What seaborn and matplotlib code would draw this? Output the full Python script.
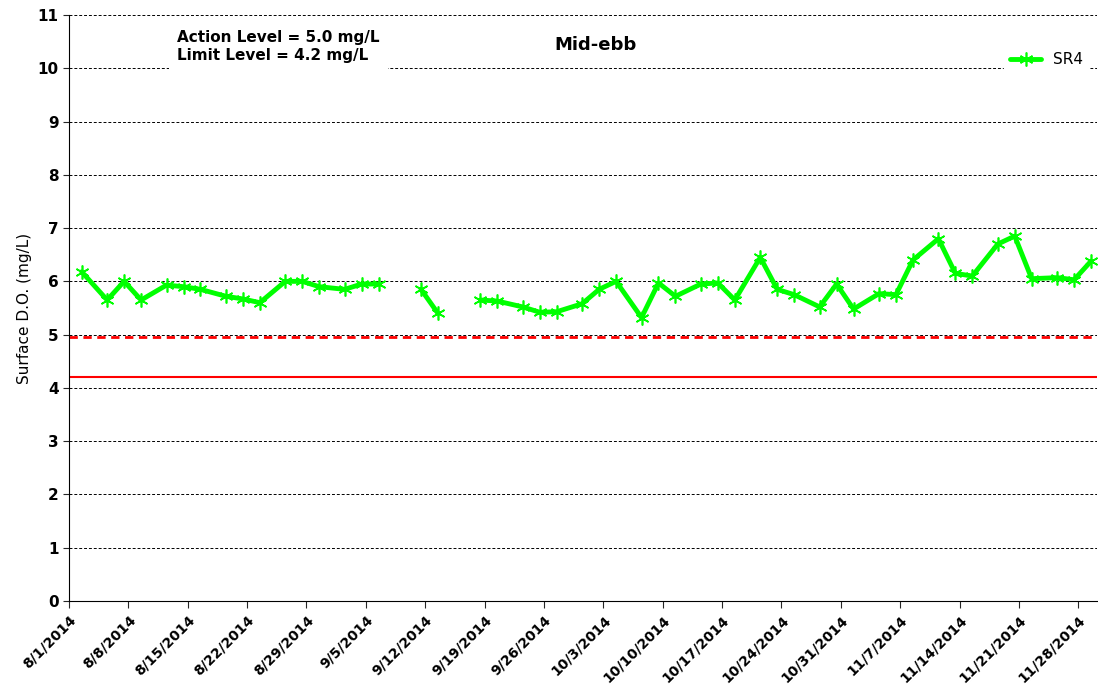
import matplotlib
matplotlib.use("Agg")
import matplotlib.pyplot as plt
import seaborn as sns
import pandas as pd
import numpy as np

dates = ["8/2","8/5","8/7","8/9","8/12","8/14","8/16","8/19","8/21","8/23","8/26","8/28","8/30",
         "9/2","9/4","9/6","9/9","9/11","9/13","9/16","9/18","9/20","9/23","9/25","9/27","9/30",
         "10/2","10/4","10/7","10/9","10/11","10/14","10/16","10/18","10/21","10/23","10/25",
         "10/28","10/30","11/1","11/4","11/6","11/8","11/11","11/13","11/15","11/18","11/20",
         "11/22","11/25","11/27","11/29"]
sr4 = [6.18,5.65,6.0,5.65,5.93,5.9,5.85,5.72,5.67,5.6,6.0,6.0,5.9,
       5.85,5.95,5.95,np.nan,5.85,5.4,np.nan,5.65,5.63,5.52,5.42,5.43,5.58,
       5.85,6.0,5.32,5.97,5.72,5.95,5.97,5.65,6.45,5.85,5.75,
       5.52,5.95,5.48,5.77,5.75,6.4,6.8,6.15,6.1,6.7,6.85,
       6.05,6.07,6.03,6.38]
action_level = 4.96
limit_level = 4.2
tick_labels = ["8/1/2014","8/8/2014","8/15/2014","8/22/2014","8/29/2014","9/5/2014","9/12/2014",
               "9/19/2014","9/26/2014","10/3/2014","10/10/2014","10/17/2014","10/24/2014",
               "10/31/2014","11/7/2014","11/14/2014","11/21/2014","11/28/2014"]

df = pd.DataFrame({"date": pd.to_datetime([d + "/2014" for d in dates], format="%m/%d/%Y")
                   + pd.Timedelta(hours=12), "SR4": sr4})
df["seg"] = df["SR4"].isna().cumsum()
df = df.dropna()

sns.set_style("white")
plt.rcParams["text.color"] = "black"
fig = plt.figure(figsize=(10.98, 6.88), dpi=100)
ax = fig.add_axes([69/1098, 1-601/688, (1097-69)/1098, (601-15)/688])
start = pd.Timestamp("2014-08-01")
ax.set_xlim(start, start + pd.Timedelta(days=121.2))
ax.set_ylim(0, 11)
ax.set_yticks(range(0, 12))
for y in range(1, 12):
    ax.axhline(y, color="black", lw=0.7, ls=(0, (3, 2)), zorder=0)
ax.axhline(action_level, color="red", lw=2, ls=(0, (3, 2)), zorder=1)
ax.axhline(limit_level, color="red", lw=1.5, zorder=1)

sns.lineplot(data=df, x="date", y="SR4", units="seg", estimator=None, ax=ax, color="#00ff00", lw=3.5,
             marker=(6, 2, 0), markersize=10, markeredgecolor="#00ff00", markeredgewidth=1.2,
             label="SR4", zorder=3)

tick_pos = pd.to_datetime(tick_labels, format="%m/%d/%Y")
ax.set_xticks(tick_pos)
ax.set_xticklabels(tick_labels, rotation=45, ha="right", rotation_mode="anchor",
                   fontsize=10, fontweight="bold", color="black")
ax.tick_params(axis="x", direction="out", length=5, bottom=True)
ax.tick_params(axis="y", labelsize=11, left=True, length=4, labelcolor="black")
for t in ax.get_yticklabels():
    t.set_fontweight("bold")
ax.set_xlabel("")
ax.set_ylabel("Surface D.O. (mg/L)", fontsize=11, color="black")
for s in ["top", "right"]:
    ax.spines[s].set_visible(False)
ax.spines["left"].set_color("black")
ax.spines["bottom"].set_color("black")

ax.text(0.105, 0.975, "Action Level = 5.0 mg/L\nLimit Level = 4.2 mg/L", transform=ax.transAxes,
        fontsize=11, fontweight="bold", va="top", ha="left", linespacing=1.3,
        bbox=dict(facecolor="white", edgecolor="none", pad=6), zorder=5)
ax.text(0.512, 0.965, "Mid-ebb", transform=ax.transAxes, fontsize=13, fontweight="bold",
        va="top", ha="center", bbox=dict(facecolor="white", edgecolor="none", pad=6), zorder=5)
handles, labels = ax.get_legend_handles_labels()
leg = ax.legend(handles[:1], labels[:1], loc="upper right", bbox_to_anchor=(1.0, 0.96),
                frameon=True, fontsize=11)
leg.get_frame().set_edgecolor("white")
leg.get_frame().set_alpha(1)
fig.savefig("out.png", dpi=100)
